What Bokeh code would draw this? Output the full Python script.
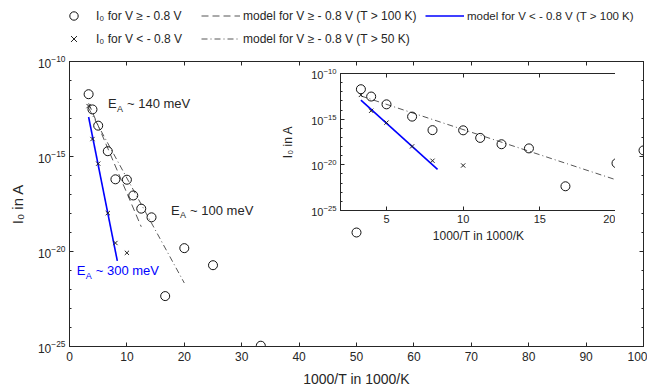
from bokeh.plotting import figure
from bokeh.models import (Range1d, FixedTicker, LinearAxis, LogAxis, CustomJSTickFormatter,
                          Legend, LegendItem)
from bokeh.layouts import column
from bokeh.embed import file_html
from bokeh.resources import INLINE
from bokeh.core.properties import value

# ---------------- data ----------------
inv_T_circ = [3.33, 4.0, 5.0, 6.67, 8.0, 10.0, 11.11, 12.5, 14.29, 16.67, 20.0, 25.0, 33.33, 50.0, 100.0]
I0_circ = [1.9e-12, 3.0e-13, 4.2e-14, 1.9e-15, 6.3e-17, 6.0e-17, 8.9e-18, 1.8e-18, 6.3e-19,
           4.5e-23, 1.5e-20, 1.9e-21, 1.1e-25, 1.0e-19, 2.1e-15]

inv_T_cross = [3.33, 4.0, 5.0, 6.67, 8.0, 10.0]
I0_cross = [4.5e-13, 8.3e-15, 4.2e-16, 1.05e-18, 2.8e-20, 8.5e-21]

fit300_x = [3.33, 8.33]
fit300_y = [1.2e-13, 3.2e-21]
fit140_x = [3.33, 12.5]
fit140_y = [6.3e-13, 2.0e-19]
fit100_x = [3.33, 20.0]
fit100_y = [3.5e-13, 2.2e-22]

main_xticks = [0, 10, 20, 30, 40, 50, 60, 70, 80, 90, 100]
y_major = [1e-25, 1e-20, 1e-15, 1e-10]
y_minor = [10.0 ** (-k) for k in range(10, 26)]
inset_xticks = [5, 10, 15, 20]

ann_x = [6.71, 17.7, 1.26]
ann_y = [5.8e-13, 1.5e-18, 1.0e-21]
ann_rest = ["~ 140 meV", "~ 100 meV", "~ 300 meV"]
ann_color = ["#262626", "#262626", "#0000ff"]

labels = ["I\u2080 for V \u2265 - 0.8 V",
          "model for V \u2265 - 0.8 V (T > 100 K)",
          "model for V < - 0.8 V (T > 100 K)",
          "I\u2080 for V < - 0.8 V",
          "model for V \u2265 - 0.8 V (T > 50 K)"]

FONT = "Liberation Sans"
TXT = "#262626"
BLUE = "#0000ff"
GREY = "#555555"


def style(p, xticks, tick_font, label_font, xstand, ystand, mirror_right=True):
    p.xgrid.visible = False
    p.ygrid.visible = False
    p.outline_line_color = TXT
    for ax in p.xaxis:
        ax.ticker = FixedTicker(ticks=xticks)
    for ax in p.yaxis:
        ax.ticker = FixedTicker(ticks=y_major, minor_ticks=y_minor)
    for ax in p.axis:
        ax.major_tick_in = 4
        ax.major_tick_out = 0
        ax.minor_tick_in = 2
        ax.minor_tick_out = 0
        ax.axis_line_color = TXT
        ax.major_tick_line_color = TXT
        ax.minor_tick_line_color = TXT
        ax.major_label_text_font = FONT
        ax.major_label_text_font_size = tick_font
        ax.major_label_text_color = TXT
        ax.axis_label_text_font = FONT
        ax.axis_label_text_font_size = label_font
        ax.axis_label_text_font_style = "normal"
        ax.axis_label_text_color = TXT
    p.xaxis.major_label_standoff = xstand[0]
    p.xaxis.axis_label_standoff = xstand[1]
    p.yaxis.major_label_standoff = ystand[0]
    p.yaxis.axis_label_standoff = ystand[1]
    # mirrored axes (ticks only)
    mirrored = [(LinearAxis(ticker=FixedTicker(ticks=xticks),
                            formatter=CustomJSTickFormatter(code="return ''")), "above")]
    if mirror_right:
        mirrored.append((LogAxis(ticker=FixedTicker(ticks=y_major, minor_ticks=y_minor),
                                 formatter=CustomJSTickFormatter(code="return ''")), "right"))
    for ax, side in mirrored:
        ax.major_tick_in = 4
        ax.major_tick_out = 0
        ax.minor_tick_in = 2
        ax.minor_tick_out = 0
        ax.major_label_standoff = 0
        ax.major_label_text_font_size = "0px"
        ax.axis_line_color = TXT
        ax.major_tick_line_color = TXT
        ax.minor_tick_line_color = TXT
        p.add_layout(ax, side)


def draw_data(p, with_140):
    r140 = None
    if with_140:
        r140 = p.line(fit140_x, fit140_y, line_color=GREY, line_width=1, line_dash="7 4")
    r100 = p.line(fit100_x, fit100_y, line_color="#444444", line_width=0.9, line_dash="6 3 1 3")
    r300 = p.line(fit300_x, fit300_y, line_color=BLUE, line_width=1.6)
    rc = p.scatter(inv_T_circ, I0_circ, marker="circle", size=9, fill_color=None,
                   line_color="#111111", line_width=1)
    rx = p.scatter(inv_T_cross, I0_cross, marker="x", size=6, line_color="#222222", line_width=1)
    return rc, rx, r140, r100, r300


# ---------------- main figure ----------------
p = figure(x_range=Range1d(0, 100), y_range=Range1d(1e-25, 1e-10), y_axis_type="log",
           frame_width=574, frame_height=285, min_border_left=69, min_border_right=4,
           min_border_top=61, min_border_bottom=42,
           output_backend="svg", toolbar_location=None,
           x_axis_label="1000/T in 1000/K", y_axis_label="I\u2080 in A")
p.background_fill_color = "white"
p.border_fill_color = "white"
style(p, main_xticks, "12px", "14px", (5, 7), (4, 9))
p.yaxis.axis_label_text_font_size = "15px"

draw_data(p, True)

# annotations: E_A with subscript A
p.text(ann_x, ann_y, text=["E"] * 3, text_color=ann_color, text_font=value(FONT),
       text_font_size="13px", text_baseline="middle", text_align="left")
p.text(ann_x, ann_y, text=["A"] * 3, text_color=ann_color, text_font=value(FONT),
       text_font_size="9px", text_baseline="middle", text_align="left", x_offset=9, y_offset=5)
p.text(ann_x, ann_y, text=ann_rest, text_color=ann_color, text_font=value(FONT),
       text_font_size="13px", text_baseline="middle", text_align="left", x_offset=19)

# ---------------- legend strips (transparent figures above the main axes) ----------------
common = dict(orientation="vertical",
              label_text_font=FONT, label_text_font_size="12px", label_text_color=TXT,
              glyph_width=39, glyph_height=21, label_height=21, label_standoff=3,
              spacing=2, padding=0, margin=0,
              border_line_color=None, background_fill_alpha=0)


def strip(width):
    f = figure(width=width, height=52, x_range=Range1d(-2, -1), y_range=Range1d(-2, -1),
               x_axis_type=None, y_axis_type=None, min_border=0,
               output_backend="svg", toolbar_location=None)
    f.outline_line_color = None
    f.background_fill_color = None
    f.border_fill_color = None
    return f


lg = strip(718)
lrc, lrx, lr140, lr100, lr300 = draw_data(lg, True)
leg_a = Legend(items=[LegendItem(label=labels[0], renderers=[lrc]),
                      LegendItem(label=labels[3], renderers=[lrx])],
               location=(49, 3), **common)
leg_b = Legend(items=[LegendItem(label=labels[1], renderers=[lr140]),
                      LegendItem(label=labels[4], renderers=[lr100])],
               location=(196, 3), **common)
lg.add_layout(leg_a, "center")
lg.add_layout(leg_b, "center")
lg.styles = {"position": "absolute", "left": "-64px", "top": "0px"}

lg2 = strip(654)
_, _, _, _, lr300b = draw_data(lg2, False)
common_c = dict(common)
common_c["label_text_font_size"] = "11.5px"
leg_c = Legend(items=[LegendItem(label=labels[2], renderers=[lr300b])],
               location=(356, 26), **common_c)
lg2.add_layout(leg_c, "center")
lg2.styles = {"position": "absolute", "left": "0px", "top": "0px"}

# ---------------- inset ----------------
q = figure(x_range=Range1d(2, 20), y_range=Range1d(1e-25, 1e-10), y_axis_type="log",
           frame_width=276, frame_height=137, min_border_left=60, min_border_right=6,
           min_border_top=8, min_border_bottom=36,
           output_backend="svg", toolbar_location=None,
           x_axis_label="1000/T in 1000/K", y_axis_label="I\u2080 in A")
q.background_fill_color = "white"
q.border_fill_color = None
style(q, inset_xticks, "11px", "12px", (4, 3), (4, 13), mirror_right=False)
draw_data(q, False)
q.styles = {"position": "absolute", "left": "271px", "top": "65px"}

layout = column(p, lg, lg2, q)
open("out.html", "w").write(file_html(layout, INLINE))
